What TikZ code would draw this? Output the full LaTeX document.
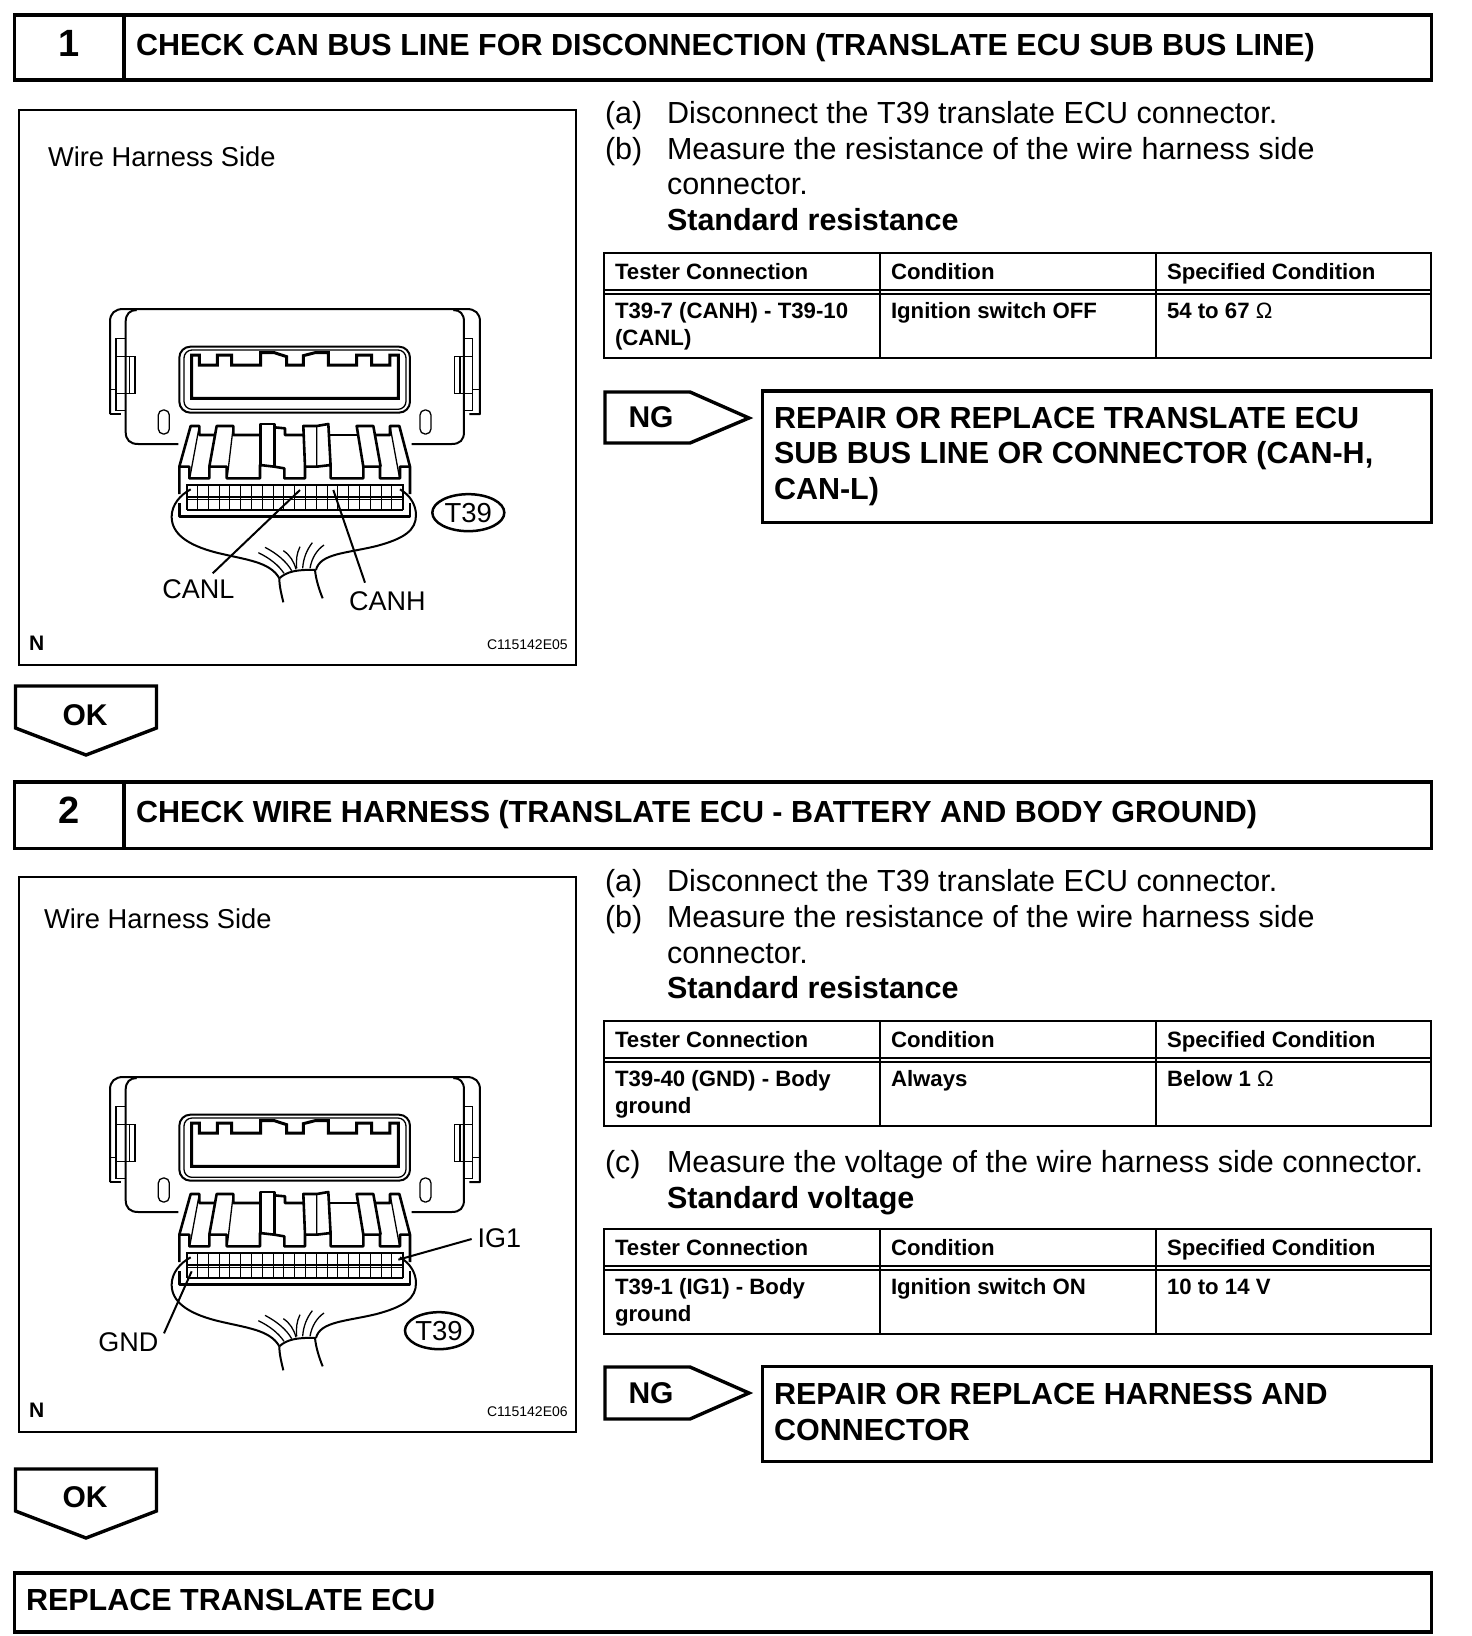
\documentclass[tikz,border=0pt]{standalone}
\usepackage{fontspec}
\setmainfont{Liberation Sans}
\usetikzlibrary{shapes.geometric}
\tikzset{
  heavy/.style={draw=black,line width=3.4pt,line join=miter},
  rule/.style={draw=black,line width=2pt},
  thinl/.style={draw=black,line width=1.3pt},
  medl/.style={draw=black,line width=2pt},
  thk/.style={draw=black,line width=2.6pt,line join=round},
  txt/.style={anchor=north west,inner sep=0pt,outer sep=0pt,align=left},
  boxn/.style={inner sep=0pt,outer sep=0pt,anchor=north west},
}
% \tx{name}{x}{baseline y}{size}{series}{text}
\newcommand{\tx}[6]{%
  \pgfmathsetmacro{\tskip}{#4*ifthenelse(#4<25,1.22,1.18)}%
  \pgfmathsetmacro{\ttop}{#3-#4}%
  \node[txt,font={\fontsize{#4}{\tskip}\selectfont#5}] (#1) at (#2,\ttop) {\rule{0pt}{#4pt}#6};}
% step header
\newcommand{\stephead}[6]{% name, top, bottom, number, title, baseline
  \node[heavy,boxn,minimum width=1417pt,minimum height=#3pt-#2pt] (#1box) at (14.5,#2) {};
  \draw[heavy] (124,#2) -- (124,#3);
  \node[font={\fontsize{38}{40}\selectfont\bfseries},anchor=base] (#1num) at (69,#6+1) {#4};
  \tx{#1title}{136}{#6}{30.5}{\bfseries}{#5}}
% 3-col table
\newcommand{\tbl}[7]{% name top headline bottom a b c
  \draw[rule] (604,#2) rectangle (1431,#4);
  \draw[rule] (880,#2) -- (880,#4);
  \draw[rule] (1156,#2) -- (1156,#4);
  \draw[rule] (604,#3) -- (1431,#3);
  \draw[rule] (604,#3+3.6) -- (1431,#3+3.6);
  \tx{#1h1}{615}{#2+26}{22.2}{\bfseries}{Tester Connection}
  \tx{#1h2}{891}{#2+26}{22.2}{\bfseries}{Condition}
  \tx{#1h3}{1167}{#2+26}{22.2}{\bfseries}{Specified Condition}
  \tx{#1c1}{615}{#3+28}{22.2}{\bfseries}{#5}
  \tx{#1c2}{891}{#3+28}{22.2}{\bfseries}{#6}
  \tx{#1c3}{1167}{#3+28}{22.2}{\bfseries}{#7}}
% Connector drawing in zoom coordinates (3 units = 1 px)
\newcommand{\housing}{%
  % back plate
  \draw[medl,line join=round] (60,372) -- (60,95) .. controls (60,70) and (75,57) .. (100,57) -- (1130,57) .. controls (1155,57) and (1170,70) .. (1170,95) -- (1170,372) -- (1138,372);
  \draw[medl] (60,372) -- (92,372);
  \draw[medl] (265,462) -- (145,462) .. controls (120,462) and (107,450) .. (107,425) -- (107,95) .. controls (107,72) and (120,60) .. (140,60);
  \draw[medl] (965,462) -- (1085,462) .. controls (1110,462) and (1122,450) .. (1122,425) -- (1122,95) .. controls (1122,72) and (1110,60) .. (1090,60);
  % side tabs
  \draw[thinl] (107,145) -- (78,145) -- (78,362) -- (107,362);
  \draw[thinl] (78,200) -- (135,200) -- (135,310) -- (78,310);
  \draw[thinl] (118,200) -- (118,310) (60,298) -- (78,298);
  \draw[thinl] (1122,145) -- (1148,145) -- (1148,362) -- (1122,362);
  \draw[thinl] (1148,200) -- (1094,200) -- (1094,310) -- (1148,310);
  \draw[thinl] (1110,200) -- (1110,310) (1148,298) -- (1170,298);
  % window
  \draw[medl,rounded corners=11pt] (268,170) rectangle (960,368);
  \draw[thinl,rounded corners=8pt] (282,180) rectangle (948,358);
  \draw[draw=black,line width=3pt,line join=miter] (305,195) -- (328,195) -- (328,225) -- (382,225) -- (382,195) -- (425,195) -- (425,225) -- (512,225) -- (512,188) -- (553,188) -- (590,200) -- (590,225) -- (640,225) -- (640,197) -- (675,188) -- (715,188) -- (715,225) -- (800,225) -- (800,195) -- (845,195) -- (845,225) -- (900,225) -- (900,195) -- (925,195) -- (925,325) -- (305,325) -- cycle;
  % ovals
  \draw[thinl,rounded corners=5pt] (205,360) rectangle (238,432);
  \draw[thinl,rounded corners=5pt] (990,360) rectangle (1023,432);
  % plug outline
  \draw[thk] (268,612) -- (268,530) -- (302,408) -- (328,408) -- (328,435) -- (372,435);
  \draw[thk] (358,530) -- (380,408) -- (430,408) -- (430,435) -- (512,435);
  \draw[thk] (512,525) -- (512,402) -- (553,402) -- (553,530);
  \draw[thk] (553,412) -- (585,415) -- (585,435) -- (640,435);
  \draw[thk] (645,530) -- (640,408) -- (680,408) -- (715,402) -- (722,530);
  \draw[thk] (715,435) -- (802,435);
  \draw[thk] (820,530) -- (800,408) -- (850,408) -- (872,530);
  \draw[thk] (856,435) -- (900,435) -- (900,408) -- (928,408) -- (960,530) -- (960,612);
  \draw[thk] (268,530) -- (298,530) -- (298,565) -- (358,565) -- (358,530) -- (410,530) -- (410,565) -- (510,565) -- (510,525) -- (553,530) -- (583,535) -- (583,565) -- (645,565) -- (645,530) -- (680,530) -- (722,525) -- (722,565) -- (820,565) -- (820,530) -- (870,530) -- (870,565) -- (930,565) -- (930,530) -- (960,530);
  \draw[thinl] (328,408) -- (300,560) (430,408) -- (412,560) (900,408) -- (928,560) (680,408) -- (680,530);
  % cavity grid
  \draw[medl] (290,660) -- (290,585) -- (938,585) -- (938,660);
  \draw[medl] (290,621) -- (938,621);
  \draw[thinl] (290,628) -- (938,628) (290,660) -- (938,660);
  \foreach \gx in {1,...,19} \draw[draw=black,line width=1.1pt] ({290+\gx*32.4},585) -- ({290+\gx*32.4},660);
  \draw[thk] (268,640) -- (268,680) -- (960,680) -- (960,640);
}
\newcommand{\wires}{%
  \draw[medl] (302,598) .. controls (270,615) and (245,645) .. (245,680) .. controls (245,730) and (290,765) .. (380,788) .. controls (470,810) and (540,815) .. (568,865);
  \draw[medl] (930,598) .. controls (960,615) and (978,645) .. (978,675) .. controls (978,720) and (945,745) .. (860,768) .. controls (770,790) and (690,790) .. (678,840);
  \draw[medl] (568,865) .. controls (590,845) and (620,838) .. (675,840);
  \draw[medl] (568,865) .. controls (568,890) and (575,915) .. (580,937);
  \draw[medl] (675,840) .. controls (678,870) and (688,900) .. (698,925);
  \draw[thinl] (505,788) .. controls (540,805) and (565,825) .. (582,850);
  \draw[thinl] (525,772) .. controls (560,790) and (590,815) .. (605,842);
  \draw[thinl] (580,782) .. controls (600,795) and (612,815) .. (618,838);
  \draw[thinl] (630,770) .. controls (620,790) and (618,810) .. (620,835);
  \draw[thinl] (667,758) .. controls (650,780) and (640,805) .. (638,835);
  \draw[thinl] (702,765) .. controls (680,780) and (665,805) .. (660,835);
}
\begin{document}
\begin{tikzpicture}[x=1pt,y=-1pt]
\useasboundingbox (0,0) rectangle (1472,1636);
\fill[white] (0,0) rectangle (1472,1636);

% ===== Step 1 =====
\stephead{s1}{15}{80}{1}{CHECK CAN BUS LINE FOR DISCONNECTION (TRANSLATE ECU SUB BUS LINE)}{55}
\node[rule,boxn,minimum width=557pt,minimum height=555pt] (p1) at (19,110) {};
\tx{p1t}{48}{166}{27.3}{}{Wire Harness Side}
\tx{p1n}{29}{650}{21}{\bfseries}{N}
\tx{p1c}{487}{649}{14}{}{C115142E05}
\begin{scope}[shift={(90,290)},x=0.33333pt,y=-0.33333pt]
  \housing
  \wires
  \coordinate (canlA) at (630,600); \coordinate (canlB) at (368,850);
  \coordinate (canhA) at (730,600); \coordinate (canhB) at (825,878);
  \draw[medl] (canlA) -- (canlB);
  \draw[medl] (canhA) -- (canhB);
  \node[font=\fontsize{27}{30}\selectfont,inner sep=0pt] (canl) at (325,899) {CANL};
  \node[font=\fontsize{27}{30}\selectfont,inner sep=0pt] (canh) at (892,935) {CANH};
  \node[ellipse,draw=black,line width=2.5pt,minimum width=72pt,minimum height=37pt,inner sep=0pt,font=\fontsize{27.5}{30}\selectfont] (t39a) at (1135,668) {T39};
\end{scope}

\tx{a1}{605}{123}{30.5}{}{(a)}
\tx{a1t}{667}{123}{30.5}{}{Disconnect the T39 translate ECU connector.}
\tx{b1}{605}{159}{30.5}{}{(b)}
\tx{b1t}{667}{159}{30.5}{}{Measure the resistance of the wire harness side\\connector.\\\textbf{Standard resistance}}
\tbl{ta}{253}{290}{357.5}{T39-7 (CANH) - T39-10\\(CANL)}{Ignition switch OFF}{54 to 67 \textnormal{Ω}}

% NG 1
\node[inner sep=0pt,font=\fontsize{30}{32}\selectfont\bfseries,anchor=base] (ng1) at (651,427) {NG};
\draw[heavy] (605,392) -- (690,392) -- (749,418) -- (690,443) -- (605,443) -- cycle;
\node[heavy,boxn,minimum width=669pt,minimum height=131.5pt] (r1) at (762.5,391) {};
\tx{r1t}{774}{428}{30.5}{\bfseries}{REPAIR OR REPLACE TRANSLATE ECU\\SUB BUS LINE OR CONNECTOR (CAN-H,\\CAN-L)}

% OK 1
\draw[heavy] (15.5,686) -- (156.5,686) -- (156.5,728) -- (86,755) -- (15.5,728) -- cycle;
\node[inner sep=0pt,font=\fontsize{30}{32}\selectfont\bfseries,anchor=base] (ok1) at (85,725) {OK};

% ===== Step 2 =====
\stephead{s2}{782}{848.5}{2}{CHECK WIRE HARNESS (TRANSLATE ECU - BATTERY AND BODY GROUND)}{822.5}
\node[rule,boxn,minimum width=557pt,minimum height=555pt] (p2) at (19,877) {};
\tx{p2t}{44}{928}{27.3}{}{Wire Harness Side}
\tx{p2n}{29}{1417}{21}{\bfseries}{N}
\tx{p2c}{487}{1416}{14}{}{C115142E06}
\begin{scope}[shift={(90,1058)},x=0.33333pt,y=-0.33333pt]
  \housing
  \wires
  \coordinate (igA) at (925,605); \coordinate (igB) at (1145,543);
  \coordinate (gndA) at (305,640); \coordinate (gndB) at (222,826);
  \draw[medl] (igA) -- (igB);
  \draw[medl] (gndA) -- (gndB);
  \node[font=\fontsize{27}{30}\selectfont,inner sep=0pt] (ig1) at (1228,541) {IG1};
  \node[font=\fontsize{27}{30}\selectfont,inner sep=0pt] (gnd) at (115,854) {GND};
  \node[ellipse,draw=black,line width=2.5pt,minimum width=68pt,minimum height=37pt,inner sep=0pt,font=\fontsize{27.5}{30}\selectfont] (t39b) at (1047,818) {T39};
\end{scope}

\tx{a2}{605}{891}{30.5}{}{(a)}
\tx{a2t}{667}{891}{30.5}{}{Disconnect the T39 translate ECU connector.}
\tx{b2}{605}{927}{30.5}{}{(b)}
\tx{b2t}{667}{927}{30.5}{}{Measure the resistance of the wire harness side\\connector.\\\textbf{Standard resistance}}
\tbl{tb}{1021}{1058}{1125.5}{T39-40 (GND) - Body\\ground}{Always}{Below 1 \textnormal{Ω}}
\tx{c2}{605}{1172}{30.5}{}{(c)}
\tx{c2t}{667}{1172}{30.5}{}{Measure the voltage of the wire harness side connector.\\\textbf{Standard voltage}}
\tbl{tc}{1229}{1266}{1334}{T39-1 (IG1) - Body\\ground}{Ignition switch ON}{10 to 14 V}

% NG 2
\node[inner sep=0pt,font=\fontsize{30}{32}\selectfont\bfseries,anchor=base] (ng2) at (651,1403) {NG};
\draw[heavy] (605,1367) -- (690,1367) -- (749,1393) -- (690,1419) -- (605,1419) -- cycle;
\node[heavy,boxn,minimum width=669pt,minimum height=95pt] (r2) at (762.5,1366.5) {};
\tx{r2t}{774}{1404}{30.5}{\bfseries}{REPAIR OR REPLACE HARNESS AND\\CONNECTOR}

% OK 2
\draw[heavy] (15.5,1469) -- (156.5,1469) -- (156.5,1511) -- (86,1538) -- (15.5,1511) -- cycle;
\node[inner sep=0pt,font=\fontsize{30}{32}\selectfont\bfseries,anchor=base] (ok2) at (85,1507) {OK};

% Final
\node[heavy,boxn,minimum width=1417pt,minimum height=59pt] (fin) at (14.5,1573) {};
\tx{fint}{26}{1610}{30.5}{\bfseries}{REPLACE TRANSLATE ECU}
\end{tikzpicture}
\end{document}
